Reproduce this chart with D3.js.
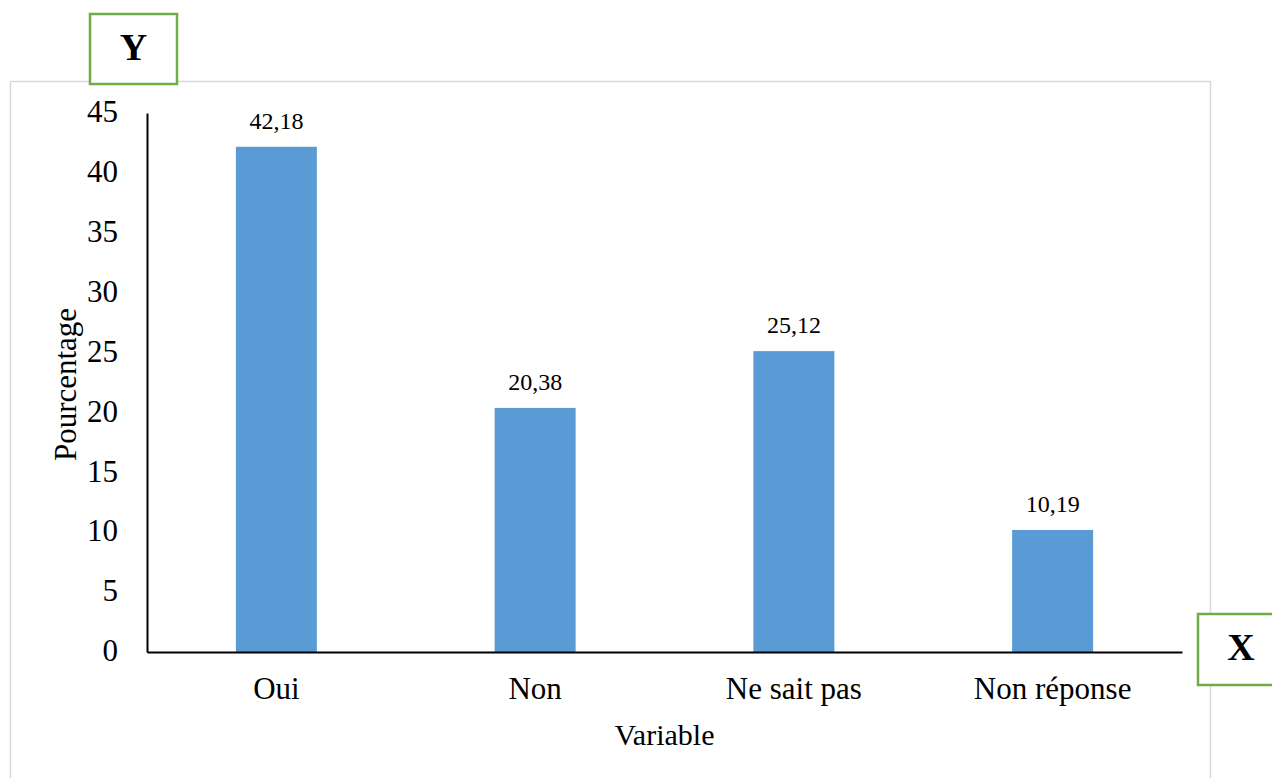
<!DOCTYPE html>
<html>
<head>
<meta charset="utf-8">
<script src="https://cdn.jsdelivr.net/npm/d3@7"></script>
<style>
  html, body { margin: 0; padding: 0; background: #fff; }
  svg { display: block; font-family: "Liberation Serif", "Times New Roman", serif; }
</style>
</head>
<body>
<svg id="chart" width="1272" height="778"></svg>
<script>
// Survey answers and their shares (%)
const categories = ["Oui", "Non", "Ne sait pas", "Non réponse"];
const values = [42.18, 20.38, 25.12, 10.19];
const yTicks = [0, 5, 10, 15, 20, 25, 30, 35, 40, 45];
const yTitle = "Pourcentage";
const xTitle = "Variable";

const fmt = v => v.toFixed(2).replace(".", ",");

const svg = d3.select("#chart");

// Outer chart frame
svg.append("rect")
  .attr("x", 10.5).attr("y", 81.5)
  .attr("width", 1200).attr("height", 760)
  .attr("fill", "#fff")
  .attr("stroke", "#d9d9d9")
  .attr("stroke-width", 1.5);

const plot = { left: 147, right: 1182, top: 113, bottom: 652 };

const x = d3.scaleBand()
  .domain(categories)
  .range([plot.left, plot.right])
  .padding(0);

const y = d3.scaleLinear()
  .domain([0, 45])
  .range([plot.bottom, plot.top]);

const barW = x.bandwidth() * 0.313;

// Bars
svg.append("g")
  .selectAll("rect")
  .data(categories)
  .join("rect")
  .attr("x", (d) => x(d) + (x.bandwidth() - barW) / 2)
  .attr("y", (d, i) => y(values[i]))
  .attr("width", barW)
  .attr("height", (d, i) => y(0) - y(values[i]))
  .attr("fill", "#5b9bd5");

// Value labels above bars
svg.append("g")
  .selectAll("text")
  .data(categories)
  .join("text")
  .attr("x", (d) => x(d) + x.bandwidth() / 2)
  .attr("y", (d, i) => y(values[i]) - 18)
  .attr("text-anchor", "middle")
  .attr("font-family", "Liberation Serif, serif")
  .attr("font-size", 24)
  .attr("fill", "#000")
  .text((d, i) => fmt(values[i]));

// Y axis
const yAxis = svg.append("g")
  .attr("transform", `translate(${plot.left},0)`)
  .call(d3.axisLeft(y).tickValues(yTicks).tickSize(0).tickPadding(29).tickFormat(d3.format("d")));
yAxis.select(".domain").attr("stroke", "#000").attr("stroke-width", 2);
yAxis.selectAll("text")
  .attr("font-family", "Liberation Serif, serif")
  .attr("font-size", 31)
  .attr("fill", "#000")
  .attr("dy", "0.28em");

// X axis
const xAxis = svg.append("g")
  .attr("transform", `translate(0,${plot.bottom})`)
  .call(d3.axisBottom(x).tickSize(0).tickPadding(0));
xAxis.select(".domain").attr("stroke", "#000").attr("stroke-width", 2);
xAxis.selectAll("text")
  .attr("font-family", "Liberation Serif, serif")
  .attr("font-size", 31)
  .attr("fill", "#000")
  .attr("y", 47)
  .attr("dy", 0);

// Axis titles
svg.append("text")
  .attr("x", (plot.left + plot.right) / 2)
  .attr("y", 745)
  .attr("text-anchor", "middle")
  .attr("font-size", 30)
  .text(xTitle);

svg.append("text")
  .attr("transform", `translate(76,${(plot.top + plot.bottom) / 2 + 2}) rotate(-90)`)
  .attr("text-anchor", "middle")
  .attr("font-size", 31)
  .text(yTitle);

// Axis marker boxes
svg.append("rect")
  .attr("x", 90).attr("y", 14)
  .attr("width", 87).attr("height", 70)
  .attr("fill", "#fff")
  .attr("stroke", "#70ad47")
  .attr("stroke-width", 2.5);
svg.append("text")
  .attr("x", 133.5).attr("y", 60)
  .attr("text-anchor", "middle")
  .attr("font-size", 38)
  .attr("font-weight", "bold")
  .text("Y");

svg.append("rect")
  .attr("x", 1198).attr("y", 614)
  .attr("width", 90).attr("height", 71)
  .attr("fill", "#fff")
  .attr("stroke", "#70ad47")
  .attr("stroke-width", 2.5);
svg.append("text")
  .attr("x", 1241).attr("y", 660)
  .attr("text-anchor", "middle")
  .attr("font-size", 38)
  .attr("font-weight", "bold")
  .text("X");
</script>
</body>
</html>
